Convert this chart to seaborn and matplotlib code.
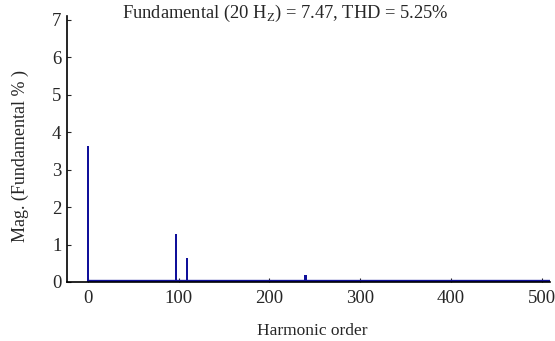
import matplotlib
matplotlib.use("Agg")
import matplotlib.pyplot as plt
import seaborn as sns
import pandas as pd

orders = [0, 97, 109, 240]
mags = [3.62, 1.27, 0.63, 0.20]
base_x = [0, 509]
base_y = [0.02, 0.02]
xticks = [0, 100, 200, 300, 400, 500]
yticks = [0, 1, 2, 3, 4, 5, 6, 7]
title = "Fundamental (20 H$_\\mathregular{Z}$) = 7.47, THD = 5.25%"

sns.set_style("ticks")
plt.rcParams['font.family'] = ['Liberation Serif', 'DejaVu Serif']
plt.rcParams['mathtext.fontset'] = 'custom'
plt.rcParams['mathtext.rm'] = 'Liberation Serif'

fig = plt.figure(figsize=(5.55, 3.41), dpi=100)
ax = fig.add_axes([67/555, 59/341, 483/555, 266/341])

color = "#10109a"
df = pd.DataFrame({"order": orders, "mag": mags})
sns.barplot(data=df, x="order", y="mag", native_scale=True, color=color,
            width=0.24, saturation=1, ax=ax, edgecolor=color, linewidth=0)
sns.lineplot(x=base_x, y=base_y, color=color, linewidth=2.4, ax=ax)

ax.set_xlim(-23, 509)
ax.set_ylim(0, 7.1)
ax.set_xticks(xticks)
ax.set_yticks(yticks)
ax.tick_params(direction="in", length=3, width=0.8, labelsize=13.5)
ax.tick_params(axis="x", pad=6)
ax.tick_params(axis="y", pad=4)
for s in ["top", "right"]:
    ax.spines[s].set_visible(False)
for s in ["left", "bottom"]:
    ax.spines[s].set_linewidth(1.2)
    ax.spines[s].set_color("black")
ax.set_xlabel("Harmonic order", fontsize=12.5, va="center")
ax.xaxis.set_label_coords((312 - 67) / 483, -(331 - 282) / 266)
ax.set_ylabel("Mag. (Fundamental % )", fontsize=13, va="center")
ax.yaxis.set_label_coords(-(67 - 20) / 483, (282 - 156) / 266)
fig.text(285/555, 1 - 13/341, title, ha="center", va="center", fontsize=13.3)

fig.savefig("out.png", dpi=100)
